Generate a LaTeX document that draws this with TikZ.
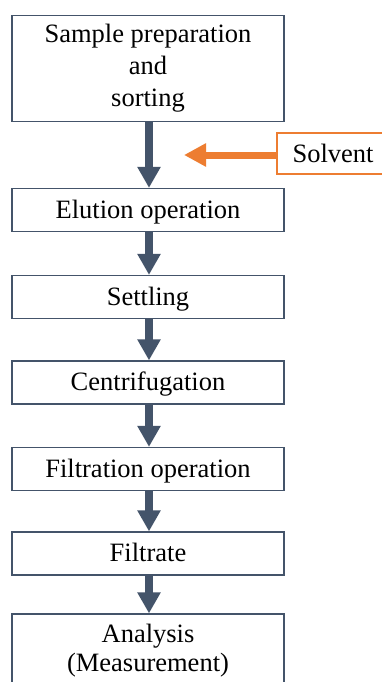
\documentclass[tikz,border=0pt]{standalone}
\usepackage{fontspec}
\setmainfont{Liberation Serif}
\usetikzlibrary{arrows.meta}
\definecolor{slate}{HTML}{44546A}
\definecolor{orng}{HTML}{ED7D31}
\begin{document}
\begin{tikzpicture}[x=1pt,y=-1pt,
  box/.style={draw=slate, line width=1.2pt, fill=white, minimum width=272pt, inner sep=0pt, align=center},
  onebox/.style={box, minimum height=43pt, text height=19pt, text depth=3pt, font=\fontsize{26.5}{32}\selectfont},
  flow/.style={draw=slate, line width=8pt, -{Triangle[width=22pt,length=21pt]}},
  solvbox/.style={draw=orng, line width=2.5pt, fill=white, minimum width=118pt, minimum height=41pt, inner sep=0pt, font=\fontsize{26.5}{32}\selectfont},
  feed/.style={draw=orng, line width=7pt, -{Triangle[width=22pt,length=22pt]}}]
\useasboundingbox (0,0) rectangle (382,682);
\clip (0,0) rectangle (382,682);
\fill[white] (0,0) rectangle (382,682);
\node[box, minimum height=106pt, font=\fontsize{26.5}{32}\selectfont] (s1) at (148,68.5) {Sample preparation\\and\\sorting};
\node[onebox] (s2) at (148,210) {Elution operation};
\node[onebox] (s3) at (148,297) {Settling};
\node[onebox] (s4) at (148,382.5) {Centrifugation};
\node[onebox] (s5) at (148,469) {Filtration operation};
\node[onebox] (s6) at (148,553.5) {Filtrate};
\node[box, minimum height=73pt, font=\fontsize{26.5}{29}\selectfont] (s7) at (148,650.5) {Analysis\\(Measurement)};
\draw[flow] ([xshift=1pt]s1.south) -- ([xshift=1pt]s2.north);
\draw[flow] ([xshift=1pt]s2.south) -- ([xshift=1pt]s3.north);
\draw[flow] ([xshift=1pt]s3.south) -- ([xshift=1pt]s4.north);
\draw[flow] ([xshift=1pt]s4.south) -- ([xshift=1pt]s5.north);
\draw[flow] ([xshift=1pt]s5.south) -- ([xshift=1pt]s6.north);
\draw[flow] ([xshift=1pt]s6.south) -- ([xshift=1pt]s7.north);
\node[solvbox] (sv) at (336,153.5) {\hspace{-6pt}Solvent};
\coordinate (tip) at (184,155);
\draw[feed] (sv.west |- tip) -- (tip);
\end{tikzpicture}
\end{document}
